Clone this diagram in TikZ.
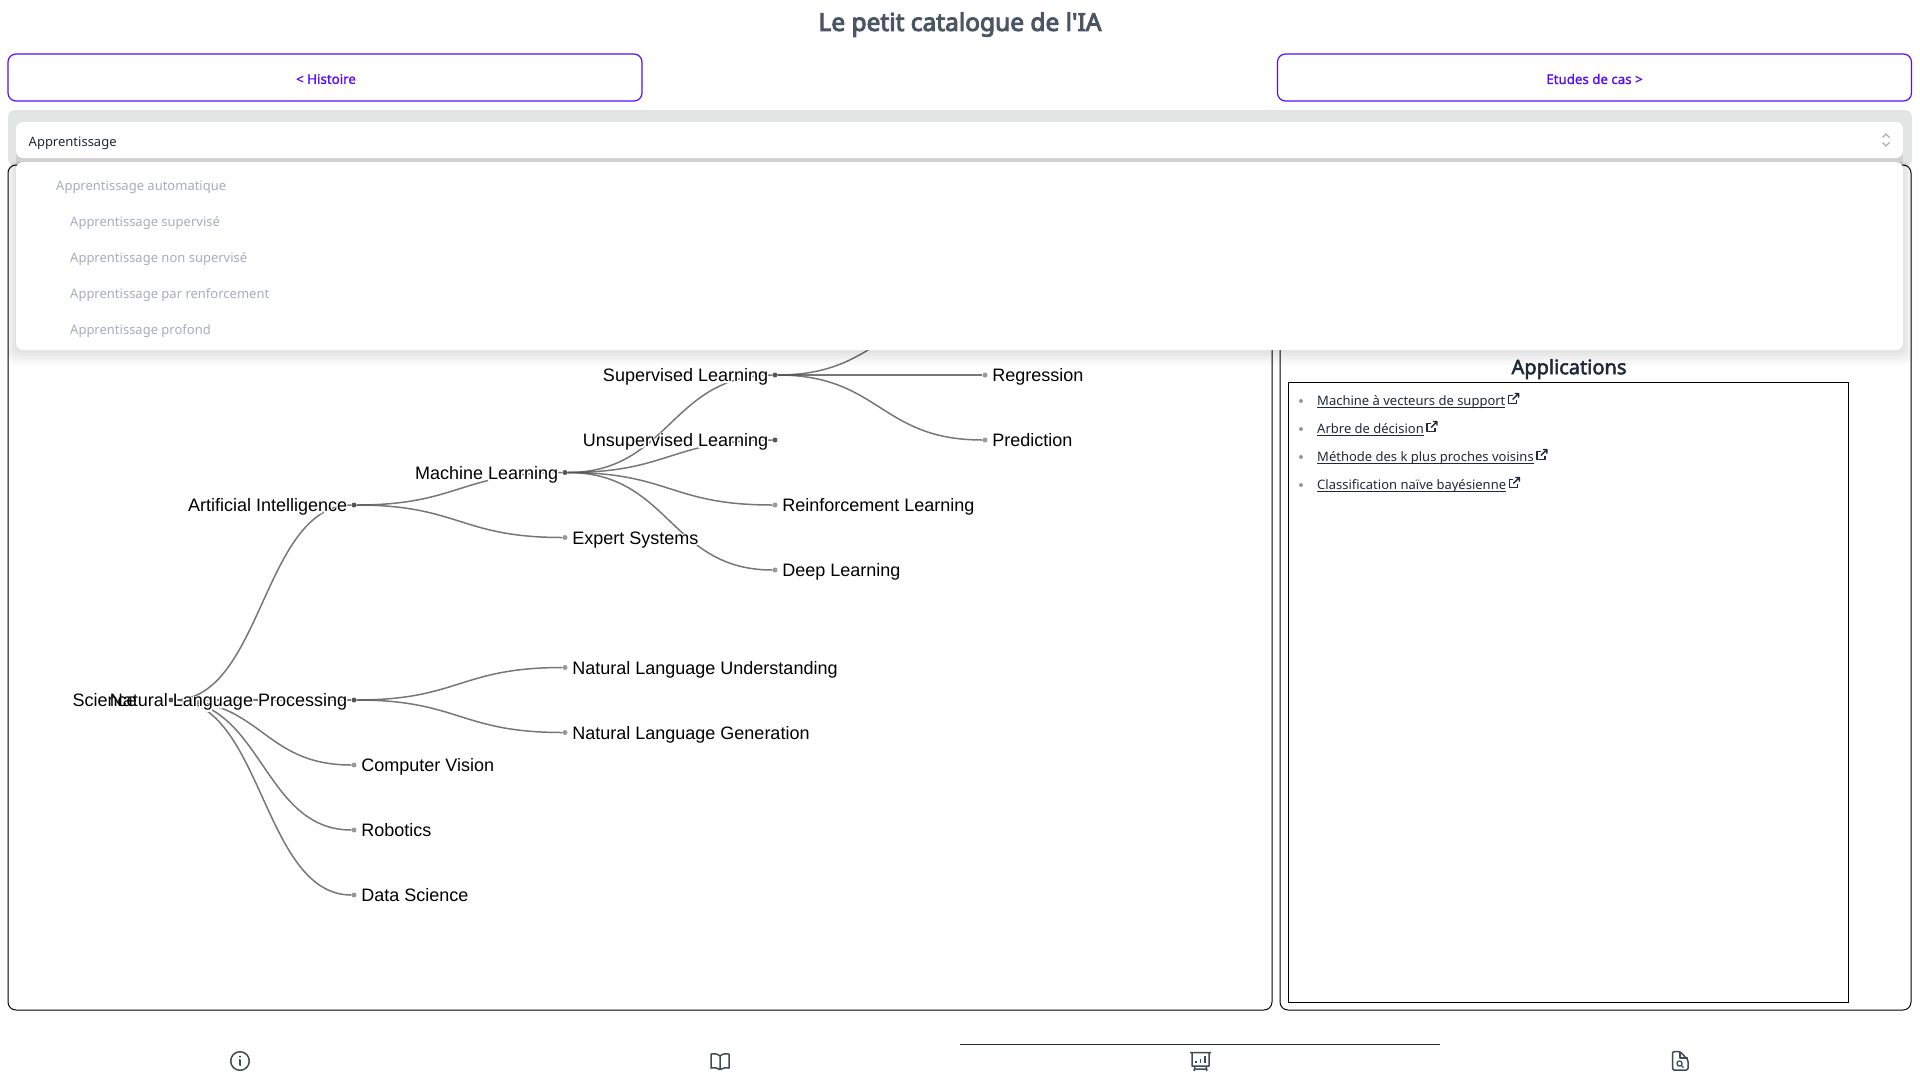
\documentclass[tikz,border=0pt]{standalone}
\usepackage{fontspec}
\usepackage{tikz}
\usetikzlibrary{positioning}
\setmainfont{Noto Sans}
\newfontfamily\treefont{Liberation Sans}
\newfontfamily\halofont[FakeBold=15]{Liberation Sans}
\newfontfamily\mediumfont[FakeBold=1.2]{Noto Sans}
\newfontfamily\headfont[FakeBold=2.5]{Noto Sans}
\newfontfamily\titlefont[FakeBold=4]{Noto Sans}
\definecolor{violetbtn}{HTML}{570DF8}
\definecolor{barbg}{HTML}{E3E5E4}
\definecolor{barshade}{HTML}{CFD0CF}
\definecolor{inkdark}{HTML}{1F2937}
\definecolor{inktitle}{HTML}{4B5563}
\definecolor{mutedtext}{HTML}{A6ADBB}
\definecolor{linkgray}{HTML}{555555}
\definecolor{leafgray}{HTML}{999999}
\newcommand{\halo}[1]{\rlap{\halofont\textcolor{white}{#1}}#1}
\newcommand{\lnk}[1]{\setbox0\hbox{#1}\rlap{\vrule width\wd0 height -1.3pt depth 2.3pt}\box0 }
\tikzset{
  navbtn/.style={draw=violetbtn, line width=1.2pt, rounded corners=8pt, minimum width=634pt,
    minimum height=47pt, text=violetbtn},
  navtext/.style={text=violetbtn, inner sep=0pt, font=\mediumfont\fontsize{13.3}{16}\selectfont},
  paneledge/.style={draw=black, line width=1pt, rounded corners=8pt},
  selecttext/.style={anchor=west, inner sep=0pt, text=inkdark, font=\fontsize{13}{16}\selectfont},
  menuitem/.style={anchor=west, inner sep=0pt, text=mutedtext, font=\fontsize{13}{16}\selectfont},
  appitem/.style={anchor=west, inner sep=0pt, text=inkdark, font=\fontsize{13}{16}\selectfont},
  iconline/.style={draw=inkdark!85, line width=1.5pt, line join=round},
  parentdot/.style={circle, fill=linkgray, inner sep=0pt, minimum size=5pt},
  leafdot/.style={circle, fill=leafgray, inner sep=0pt, minimum size=5pt},
  treelabel/.style={inner sep=1pt, text height=15.4pt, text depth=1.6pt, text=black,
    font=\treefont\fontsize{18}{20}\selectfont},
  linkcurve/.style={edge from parent path={(\tikzparentnode.east)
    .. controls ([xshift=#1]\tikzparentnode.center) and ([xshift=-#1]\tikzchildnode.center)
    .. (\tikzchildnode.west)}},
  extlink/.pic={
    \draw[inkdark, line width=1.4pt, line join=round]
      (-1,-3) -- (-5,-3) -- (-5,5) -- (3,5) -- (3,1);
    \draw[inkdark, line width=1.4pt, line join=round]
      (-1,1) -- (5,-5) (1,-5) -- (5,-5) -- (5,-1);
  }
}

\begin{document}
\begin{tikzpicture}[x=1pt, y=-1pt]
    \useasboundingbox (0,0) rectangle (1920,1080);
    \node[text=inktitle, font=\titlefont\fontsize{24.5}{28}\selectfont] (title) at (960,24.5) {Le petit catalogue de l'IA};
    \node[navbtn] (histoire) at (325,77.5) {};
    \node[navtext] (histoirelabel) at (326,79) {< Histoire};
    \node[navbtn] (etudes) at (1594.5,77.5) {};
    \node[navtext] (etudeslabel) at (1594.5,79) {Etudes de cas >};

    % panels
    \fill[barbg, rounded corners=7pt] (8,110) rectangle (1912,166);
    \draw[paneledge] (8,165) rectangle (1272,1010);
    \draw[paneledge] (1280,165) rectangle (1911,1010);
    \draw[black, line width=1pt] (1288,382.5) rectangle (1848,1002);

    % tree
    \node[parentdot] (root) at (171,700) {}
      [grow'=right, sibling distance=65pt,
       edge from parent/.style={draw=linkgray, draw opacity=.8, line width=1.5pt},
       level 1/.style={level distance=183pt, linkcurve=91.5pt},
       level 2/.style={level distance=211pt, linkcurve=105pt},
       level 3/.style={level distance=210pt, linkcurve=105pt},
       level 4/.style={level distance=210pt, linkcurve=105pt}]
      child {node[parentdot] (ai) {}
        child {node[parentdot] (ml) {}
          child {node[parentdot] (sl) {}
            child {node[leafdot] (cls) {}}
            child {node[leafdot] (reg) {}}
            child {node[leafdot] (pred) {}}
          }
          child {node[parentdot] (ul) {}}
          child {node[leafdot] (rl) {}}
          child {node[leafdot] (dl) {}}
        }
        child {node[leafdot] (es) {}}
      }
      child[missing] {}
      child[missing] {}
      child {node[parentdot] (nlp) {}
        child {node[leafdot] (nlu) {}}
        child {node[leafdot] (nlg) {}}
      }
      child {node[leafdot] (cv) {}}
      child {node[leafdot] (rob) {}}
      child {node[leafdot] (ds) {}};

    \node[treelabel, left=3pt of ai] (ailabel) {\halo{Artificial Intelligence}};
    \node[treelabel, left=3pt of ml] (mllabel) {\halo{Machine Learning}};
    \node[treelabel, left=3pt of sl] (sllabel) {\halo{Supervised Learning}};
    \node[treelabel, left=3pt of ul] (ullabel) {\halo{Unsupervised Learning}};
    \node[treelabel, left=3pt of nlp] (nlplabel) {\halo{Natural Language Processing}};
    \node[treelabel, left=30.5pt of root] (rootlabel) {Science};
    \node[treelabel, right=3.5pt of reg] (reglabel) {\halo{Regression}};
    \node[treelabel, right=3.5pt of pred] (predlabel) {\halo{Prediction}};
    \node[treelabel, right=3.5pt of rl] (rllabel) {\halo{Reinforcement Learning}};
    \node[treelabel, right=3.5pt of dl] (dllabel) {\halo{Deep Learning}};
    \node[treelabel, right=3.5pt of es] (eslabel) {\halo{Expert Systems}};
    \node[treelabel, right=3.5pt of nlu] (nlulabel) {\halo{Natural Language Understanding}};
    \node[treelabel, right=3.5pt of nlg] (nlglabel) {\halo{Natural Language Generation}};
    \node[treelabel, right=3.5pt of cv] (cvlabel) {\halo{Computer Vision}};
    \node[treelabel, right=3.5pt of rob] (roblabel) {\halo{Robotics}};
    \node[treelabel, right=3.5pt of ds] (dslabel) {\halo{Data Science}};

    % applications
    \node[text=inkdark, font=\headfont\fontsize{20}{24}\selectfont] (apptitle) at (1569,369) {Applications};
    \foreach \y in {401,429,457,485}
      \fill[leafgray] (1301,\y) circle (2pt);
    \node[appitem] (svm) at (1317,402) {\lnk{Machine à vecteurs de support}};
    \node[appitem] (tree) at (1317,430) {\lnk{Arbre de décision}};
    \node[appitem] (knn) at (1317,458) {\lnk{Méthode des k plus proches voisins}};
    \node[appitem] (bayes) at (1317,486) {\lnk{Classification naïve bayésienne}};
    \pic at ([xshift=8pt,yshift=3.5pt]svm.east) {extlink};
    \pic at ([xshift=8pt,yshift=3.5pt]tree.east) {extlink};
    \pic at ([xshift=8pt,yshift=3.5pt]knn.east) {extlink};
    \pic at ([xshift=8pt,yshift=3.5pt]bayes.east) {extlink};

    % open menu
    \fill[barshade] (16,150) rectangle (1903,163);
    \fill[white, rounded corners=7pt] (16,122) rectangle (1903,158);
    \foreach \s in {1,...,10}
      \fill[black, opacity=.012, rounded corners=8pt] ({16-\s},162) rectangle ({1903+\s},{350+1.5*\s});
    \fill[white, rounded corners=7pt] (16,162) rectangle (1903,350);
    \node[selecttext] (select) at (28.5,143) {Apprentissage};
    \draw[mutedtext, line width=1.3pt] (1882.5,137.5) -- (1886,134) -- (1889.5,137.5)
      (1882.5,142.5) -- (1886,146) -- (1889.5,142.5);
    \node[menuitem] (auto) at (56,187.5) {Apprentissage automatique};
    \node[menuitem] (sup) at (70,223) {Apprentissage supervisé};
    \node[menuitem] (nonsup) at (70,259) {Apprentissage non supervisé};
    \node[menuitem] (renf) at (70,295) {Apprentissage par renforcement};
    \node[menuitem] (prof) at (70,331) {Apprentissage profond};

    % bottom icons
    \draw[inkdark, line width=1.5pt] (960,1044.5) -- (1440,1044.5);
    \draw[iconline] (240,1061) circle (9.3pt);
    \fill[inkdark] (240,1056.5) circle (1pt);
    \draw[iconline] (238.8,1060) -- (240,1060) -- (240,1065) -- (241.2,1065);
    \draw[iconline] (720,1056) .. controls (717,1053.5) and (714,1053.5) .. (711,1054) -- (711,1068)
      .. controls (714,1067.5) and (717,1067.5) .. (720,1069.5)
      .. controls (723,1067.5) and (726,1067.5) .. (729,1068) -- (729,1054)
      .. controls (726,1053.5) and (723,1053.5) .. (720,1056) -- cycle (720,1056) -- (720,1069.5);
    \draw[iconline] (1190,1052.5) -- (1211,1052.5) (1192,1052.5) -- (1192,1066) -- (1209,1066) -- (1209,1052.5)
      (1195,1066) -- (1194,1071) (1206,1066) -- (1207,1071) (1194.5,1069) -- (1206.5,1069);
    \draw[iconline] (1196,1062.5) -- (1196,1061) (1200.5,1062.5) -- (1200.5,1058.5) (1205,1062.5) -- (1205,1056);
    \draw[iconline, rounded corners=1.5pt] (1672.5,1051.5) -- (1680,1051.5) -- (1688,1060) -- (1688,1070) -- (1672.5,1070) -- cycle;
    \draw[iconline] (1680,1051.5) -- (1680,1058) -- (1688,1058);
    \draw[iconline, line width=1.3pt] (1679.5,1063.5) circle (2.6pt) (1681.5,1065.5) -- (1683.5,1067.5);
\end{tikzpicture}
\end{document}
